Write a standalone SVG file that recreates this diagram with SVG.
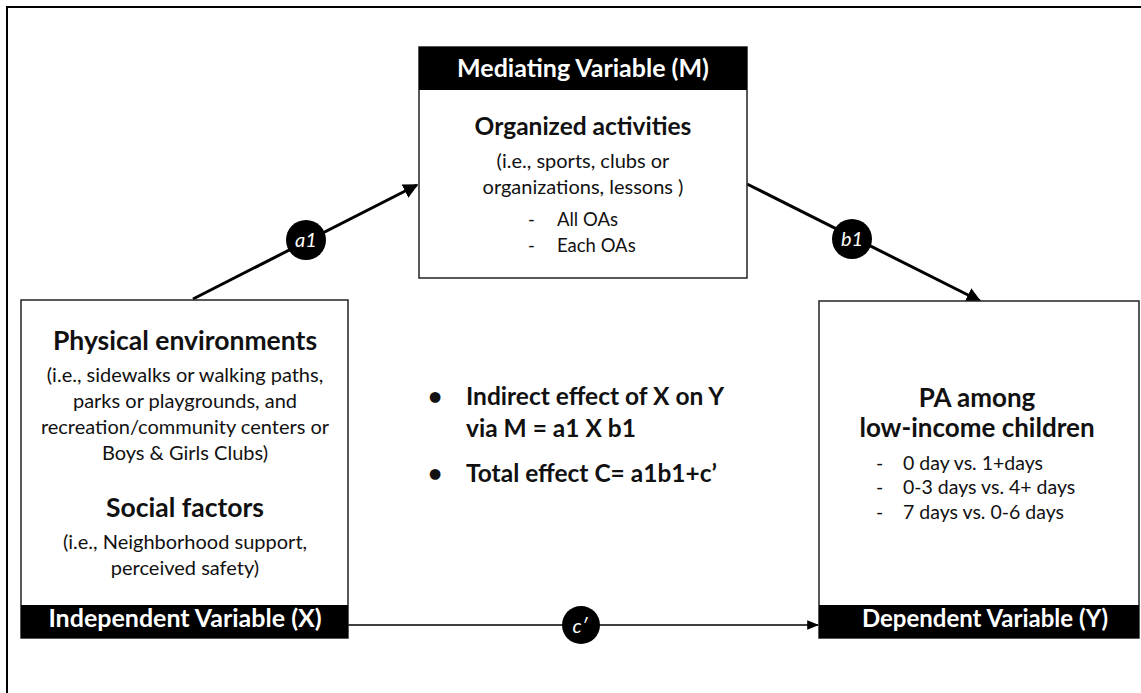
<svg xmlns="http://www.w3.org/2000/svg" width="1141" height="693" viewBox="0 0 1141 693">
<defs>
<style>
text{font-family:Lato,"Open Sans","Liberation Sans",sans-serif;fill:#111}
.box{fill:#fff;stroke:#222;stroke-width:1.5}
.bar{fill:#000}
.hdr{font-size:25px;font-weight:bold;fill:#fff;text-anchor:middle}
.ttl{font-size:26.5px;font-weight:bold;text-anchor:middle}
.sub{font-size:20px;text-anchor:middle}
.li{font-size:18.5px}
.li2{font-size:19.5px}
.bul{font-size:24.5px;font-weight:bold}
.edge{stroke:#000;fill:none}
.lbl{fill:#000}
.lt{font-size:20px;font-style:italic;fill:#fff;text-anchor:middle}
</style>
<marker id="ah" viewBox="0 0 10 10" refX="9" refY="5" markerWidth="5" markerHeight="5" orient="auto" markerUnits="strokeWidth"><path d="M0,0 L10,5 L0,10 z" fill="#000"/></marker>
<marker id="ah2" viewBox="0 0 10 10" refX="9" refY="5" markerWidth="8" markerHeight="8" orient="auto" markerUnits="strokeWidth"><path d="M0,1 L10,5 L0,9 z" fill="#000"/></marker>
</defs>
<rect x="7" y="7" width="1145" height="700" fill="none" stroke="#000" stroke-width="2"/>

<g id="connectors">
<line class="edge" x1="193" y1="299" x2="417" y2="185" stroke-width="3" marker-end="url(#ah)"/>
<line class="edge" x1="747" y1="184" x2="980" y2="301" stroke-width="3" marker-end="url(#ah)"/>
<line class="edge" x1="348" y1="625" x2="818" y2="625" stroke-width="1.5" marker-end="url(#ah2)"/>
<g id="label-a1"><circle class="lbl" cx="306" cy="240" r="20"/><text class="lt" x="306" y="247">a1</text></g>
<g id="label-b1"><circle class="lbl" cx="852" cy="239" r="20"/><text class="lt" x="852" y="246">b1</text></g>
<g id="label-c"><circle class="lbl" cx="581" cy="625" r="19"/><text class="lt" x="580" y="633">c′</text></g>
</g>

<g id="node-m">
<rect class="box" x="419" y="47" width="328" height="231"/>
<rect class="bar" x="419" y="47" width="328" height="43"/>
<text class="hdr" x="583" y="77">Mediating Variable (M)</text>
<text class="ttl" x="583" y="135" style="font-size:24.5px">Organized activities</text>
<text class="sub" x="583" y="168">(i.e., sports, clubs or</text>
<text class="sub" x="583" y="194">organizations, lessons )</text>
<text class="li" x="528" y="226">-</text><text class="li" x="557" y="226">All OAs</text>
<text class="li" x="528" y="252">-</text><text class="li" x="557" y="252">Each OAs</text>
</g>

<g id="node-x">
<rect class="box" x="21" y="300" width="327" height="338"/>
<rect class="bar" x="21" y="605" width="327" height="33"/>
<text class="hdr" x="185" y="627">Independent Variable (X)</text>
<text class="ttl" x="185" y="350">Physical environments</text>
<text class="sub" x="185" y="382">(i.e., sidewalks or walking paths,</text>
<text class="sub" x="185" y="408">parks or playgrounds, and</text>
<text class="sub" x="185" y="434">recreation/community centers or</text>
<text class="sub" x="185" y="460">Boys &amp; Girls Clubs)</text>
<text class="ttl" x="185" y="517">Social factors</text>
<text class="sub" x="185" y="549">(i.e., Neighborhood support,</text>
<text class="sub" x="185" y="575">perceived safety)</text>
</g>

<g id="node-y">
<rect class="box" x="819" y="301" width="320" height="337"/>
<rect class="bar" x="819" y="605" width="320" height="33"/>
<text class="hdr" x="985" y="627" style="font-size:24px">Dependent Variable (Y)</text>
<text class="ttl" x="977" y="407" style="font-size:26px">PA among</text>
<text class="ttl" x="977" y="437" style="font-size:26px">low-income children</text>
<text class="li2" x="876" y="470">-</text><text class="li2" x="903" y="470">0 day vs. 1+days</text>
<text class="li2" x="876" y="494">-</text><text class="li2" x="903" y="494">0-3 days vs. 4+ days</text>
<text class="li2" x="876" y="519">-</text><text class="li2" x="903" y="519">7 days vs. 0-6 days</text>
</g>

<g id="effects">
<text class="bul" x="428" y="405">•</text><text class="bul" x="466" y="405">Indirect effect of X on Y</text>
<text class="bul" x="466" y="437">via M = a1 X b1</text>
<text class="bul" x="428" y="482">•</text><text class="bul" x="466" y="482">Total effect C= a1b1+c’</text>
</g>
</svg>
